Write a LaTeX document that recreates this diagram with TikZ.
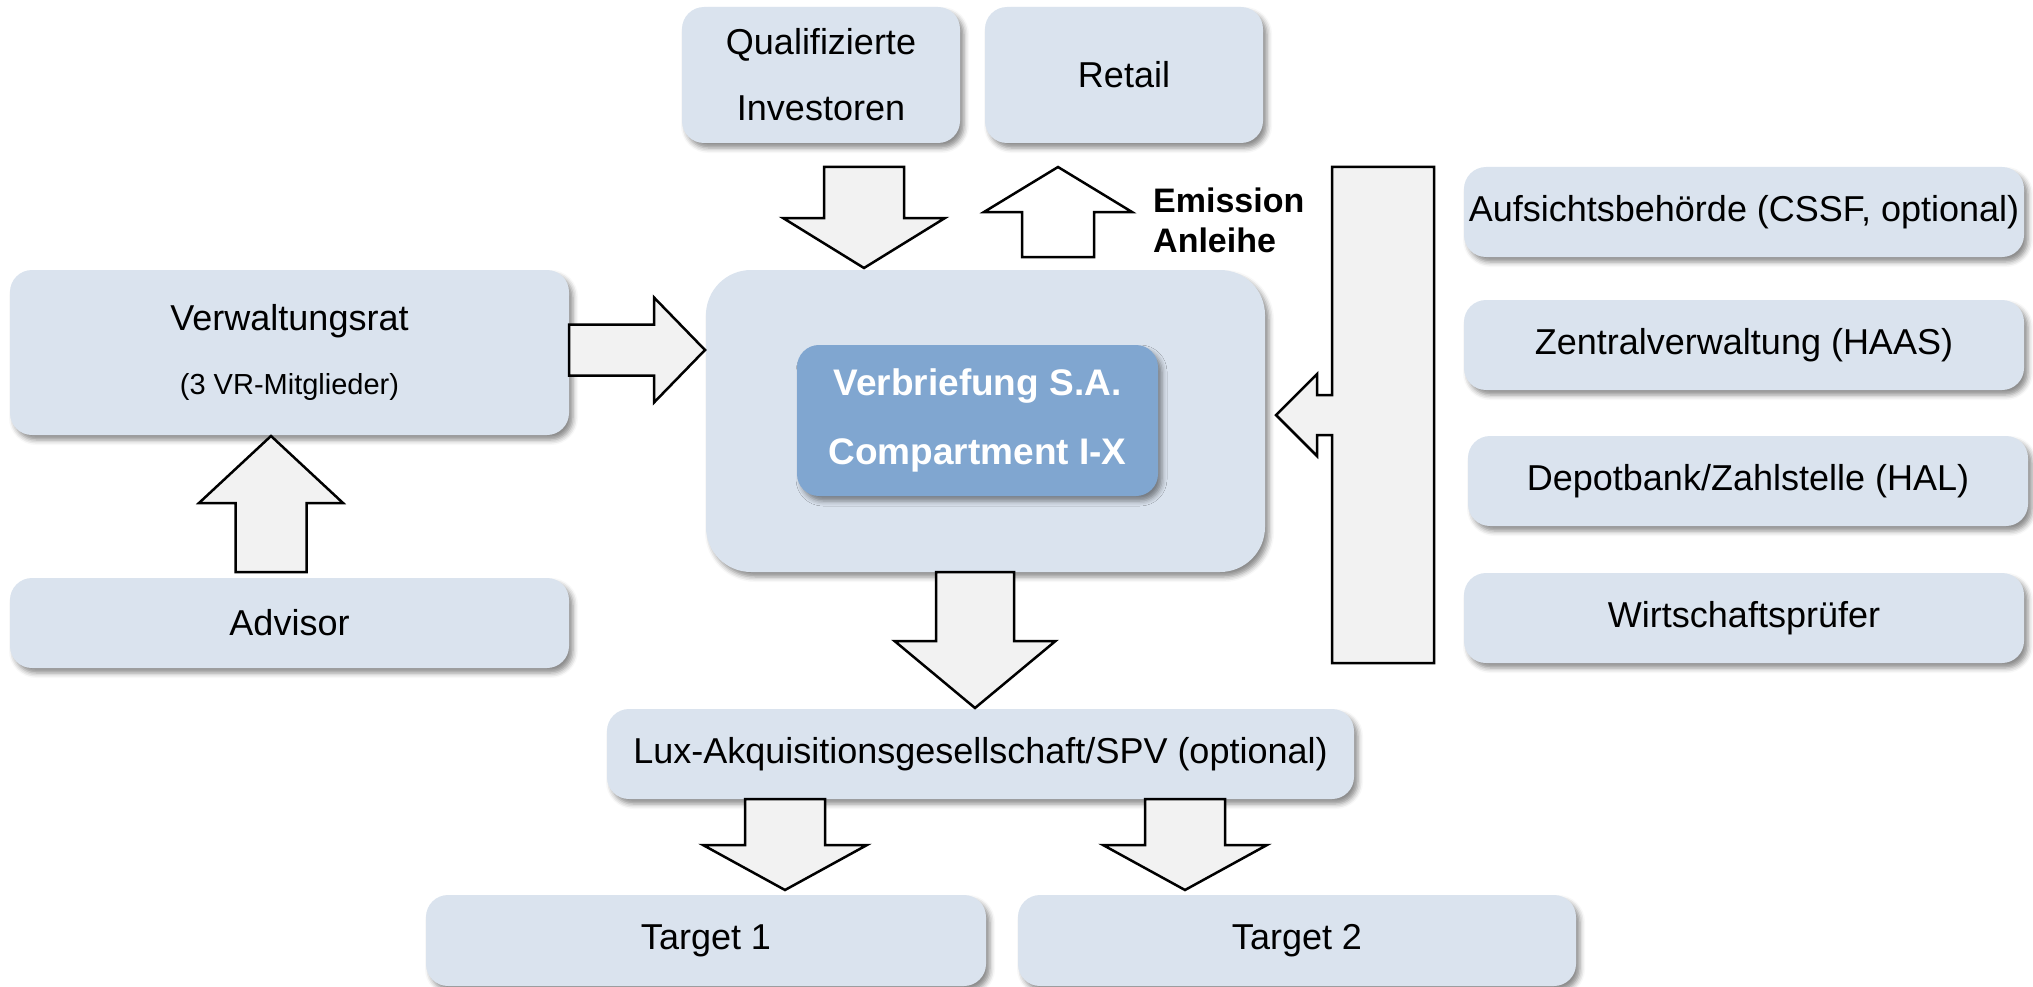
\documentclass[tikz,border=0pt]{standalone}
\usepackage{fontspec}
\setmainfont{Liberation Sans}
\usetikzlibrary{shadows.blur}

\definecolor{boxfill}{RGB}{218,227,238}
\definecolor{corefill}{RGB}{128,166,208}
\definecolor{arrowfill}{RGB}{242,242,242}

\tikzset{
  softshadow/.style={blur shadow={shadow xshift=4pt, shadow yshift=-5pt,
      shadow blur radius=5pt, shadow opacity=45}},
  panel/.style={rectangle, rounded corners=22pt, fill=boxfill, inner sep=0pt,
      align=center, softshadow, font=\fontsize{36}{66}\selectfont},
  core/.style={rectangle, rounded corners=22pt, fill=corefill, inner sep=0pt,
      align=center, softshadow, text=white,
      font=\bfseries\fontsize{37}{69}\selectfont},
  blockarrow/.style={draw=black, line width=2.5pt, fill=arrowfill, line join=miter},
  hollowarrow/.style={blockarrow, fill=white},
}

% vertical block arrow: style, centre x, start y, head base y, tip y, shaft half width, head half width
\newcommand\vblockarrow[7][blockarrow]{%
  \draw[#1] (#2-#6,#3) -- (#2+#6,#3) -- (#2+#6,#4) -- (#2+#7,#4)
    -- (#2,#5) -- (#2-#7,#4) -- (#2-#6,#4) -- cycle;}
% horizontal block arrow: centre y, start x, head base x, tip x, shaft half width, head half width
\newcommand\hblockarrow[6]{%
  \draw[blockarrow] (#2,#1-#5) -- (#3,#1-#5) -- (#3,#1-#6) -- (#4,#1)
    -- (#3,#1+#6) -- (#3,#1+#5) -- (#2,#1+#5) -- cycle;}

\begin{document}
\begin{tikzpicture}[x=1pt, y=-1pt]
\useasboundingbox (0,0) rectangle (2033,987);

% investors
\node[panel, minimum width=278pt, minimum height=136pt] (qual) at (821,75)
  {Qualifizierte\\Investoren};
\node[panel, minimum width=278pt, minimum height=136pt] (retail) at (1124,75) {Retail};

% issuing vehicle
\node[panel, rounded corners=45pt, minimum width=559pt, minimum height=302pt] (sa) at (985.5,421) {};
\node[core, minimum width=361pt, minimum height=151pt] (core) at (977.5,420.5)
  {Verbriefung S.A.\\Compartment I-X};

% governance
\node[panel, minimum width=559pt, minimum height=165pt, font=\fontsize{36}{64}\selectfont] (vr) at (289.5,352.5)
  {Verwaltungsrat\\{\fontsize{29}{64}\selectfont (3 VR-Mitglieder)}};
\node[panel, minimum width=559pt, minimum height=90pt] (advisor) at (289.5,623) {Advisor};

% service providers
\node[panel, minimum width=560pt, minimum height=90pt] (aufsicht) at (1744,212) {Aufsichtsbehörde (CSSF, optional)};
\node[panel, minimum width=560pt, minimum height=90pt] (zentral) at (1744,345) {Zentralverwaltung (HAAS)};
\node[panel, minimum width=560pt, minimum height=90pt] (depot) at (1748,481) {Depotbank/Zahlstelle (HAL)};
\node[panel, minimum width=560pt, minimum height=90pt] (wirt) at (1744,618) {Wirtschaftsprüfer};

% acquisition level
\node[panel, minimum width=747pt, minimum height=90pt] (lux) at (980.5,754) {Lux-Akquisitionsgesellschaft/SPV (optional)};
\node[panel, minimum width=560pt, minimum height=91pt] (t1) at (706,940.5) {Target 1};
\node[panel, minimum width=558pt, minimum height=91pt] (t2) at (1297,940.5) {Target 2};

% flows
\vblockarrow{864}{167}{218}{268}{40}{81}                 % qual -> sa
\vblockarrow[hollowarrow]{1058}{257}{212}{167}{36}{74}   % sa -> retail (issue)
\vblockarrow{271}{572}{503}{436}{35.5}{72}               % advisor -> vr
\hblockarrow{350}{569}{654}{705}{25.5}{52.5}             % vr -> sa
\vblockarrow{975}{572}{641}{708}{39}{80.5}               % sa -> lux
\vblockarrow{785}{799}{845}{890}{40}{82}                 % lux -> t1
\vblockarrow{1185}{799}{845}{890}{40}{82}                % lux -> t2

% bracket collecting the service providers
\draw[blockarrow] (1332,167) -- (1434,167) -- (1434,663) -- (1332,663) -- (1332,435)
  -- (1317,435) -- (1317,456) -- (1276,415) -- (1317,374) -- (1317,395)
  -- (1332,395) -- cycle;

\node[anchor=base west, inner sep=0pt, align=left, font=\bfseries\fontsize{34}{40}\selectfont]
  (emission) at (1153,252) {Emission\\Anleihe};
\end{tikzpicture}
\end{document}
